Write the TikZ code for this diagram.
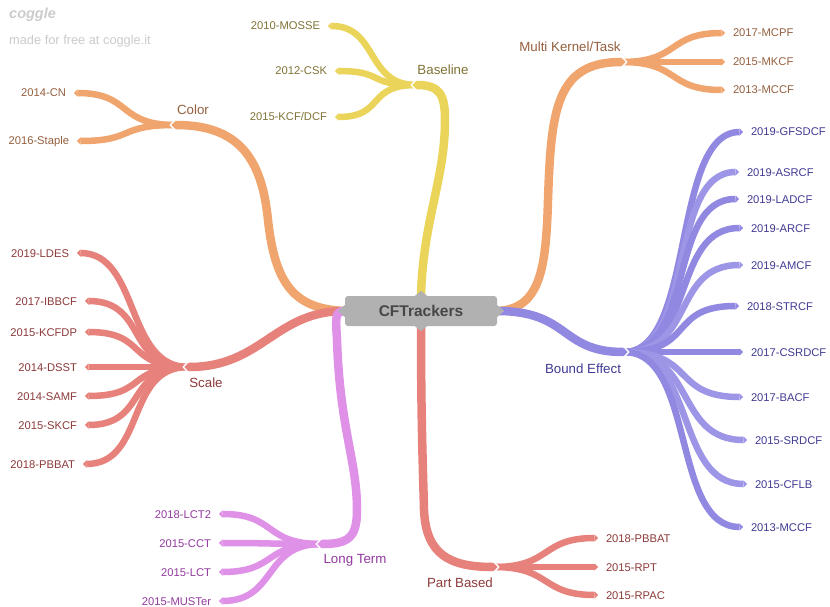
\documentclass[tikz,border=0pt]{standalone}
\usepackage{fontspec}
\setmainfont{Liberation Sans}
\usetikzlibrary{arrows.meta,backgrounds}

% branch colours
\definecolor{cYellow}{HTML}{EAD45A}
\definecolor{cOrange}{HTML}{F0A56E}
\definecolor{cRed}{HTML}{E6817B}
\definecolor{cPink}{HTML}{DF91E8}
\definecolor{cBlue}{HTML}{9088E1}
\definecolor{cBlueLight}{HTML}{9D96E6}
\definecolor{cGray}{HTML}{B1B1B1}
% text colours
\definecolor{tOlive}{HTML}{7F7236}
\definecolor{tBrown}{HTML}{945F3E}
\definecolor{tRed}{HTML}{8C3A3A}
\definecolor{tPurple}{HTML}{923A9E}
\definecolor{tBlue}{HTML}{403A93}
\definecolor{tRoot}{HTML}{474747}
\definecolor{tMark}{HTML}{CBCBCB}

\begin{document}
\begin{tikzpicture}[x=1pt,y=-1pt,
  leafL/.style={anchor=east, inner sep=0pt, outer xsep=8pt, text height=8pt, text depth=0pt,
    font=\fontsize{11.2}{13}\selectfont},
  leafR/.style={leafL, anchor=west},
  catlabel/.style={inner sep=0pt, font=\fontsize{13.3}{15}\selectfont},
  rootnode/.style={fill=cGray, rounded corners=3pt, minimum width=152pt, minimum height=30pt,
    inner sep=0pt, text=tRoot, font=\bfseries\fontsize{15.5}{18}\selectfont},
  trunk/.style={line width=8.5pt, -{Triangle[length=4pt,width=9pt,line width=0pt]}},
  twig/.style={line width=6.5pt, -{Triangle[length=3.5pt,width=7.5pt,line width=0pt]}},
  notchline/.style={white, line width=1.3pt, line join=miter},
]
\useasboundingbox (0,0) rectangle (830,607);

% watermark
\node[anchor=west, inner sep=0pt, text=tMark, font=\bfseries\itshape\fontsize{14.5}{16}\selectfont] (logo) at (9,15) {coggle};
\node[anchor=west, inner sep=0pt, text=tMark, font=\fontsize{12.8}{15}\selectfont] (credit) at (9,41) {made for free at coggle.it};

% central topic
\node[rootnode] (root) at (421,311) {CFTrackers};
\fill[cGray] (root.west) ++(0,-6) -- ++(-7,6) -- ++(7,6) -- cycle;
\fill[cGray] (root.east) ++(0,-6) -- ++(7,6) -- ++(-7,6) -- cycle;
\fill[cGray] (root.north) ++(-6,0) -- ++(6,-5) -- ++(6,5) -- cycle;
\fill[cGray] (root.south) ++(-6,0) -- ++(6,5) -- ++(6,-5) -- cycle;

% category labels
\node[catlabel, text=tOlive]  (baseline) at (443,70)  {Baseline};
\node[catlabel, text=tBrown]  (color)    at (193,110) {Color};
\node[catlabel, text=tRed]    (scale)    at (206,383) {Scale};
\node[catlabel, text=tPurple] (longterm) at (355,560) {Long Term};
\node[catlabel, text=tRed]    (partbased) at (460,583) {Part Based};
\node[catlabel, text=tBlue]   (bound)    at (583,369) {Bound Effect};
\node[catlabel, text=tBrown]  (multi)    at (570,47)  {Multi Kernel/Task};

% hubs (tip of each trunk) and the start of each bundle of twigs
\coordinate (bsHub) at (413,85);  \coordinate (bsRoot) at (416,85);
\coordinate (clHub) at (172,125); \coordinate (clRoot) at (175,125);
\coordinate (scHub) at (185,367); \coordinate (scRoot) at (188,367);
\coordinate (ltHub) at (318,544); \coordinate (ltRoot) at (321,544);
\coordinate (pbHub) at (497,567); \coordinate (pbRoot) at (494,567);
\coordinate (mkHub) at (625,62);  \coordinate (mkRoot) at (622,62);
\coordinate (bdHub) at (627,352); \coordinate (bdRoot) at (624,352);

% leaves: Baseline
\node[leafL, text=tOlive] (mosse) at (328,26)  {2010-MOSSE};
\node[leafL, text=tOlive] (csk)   at (335,71)  {2012-CSK};
\node[leafL, text=tOlive] (kcf)   at (335,117) {2015-KCF/DCF};
% leaves: Color
\node[leafL, text=tBrown] (cn)     at (74,93)  {2014-CN};
\node[leafL, text=tBrown] (staple) at (77,141) {2016-Staple};
% leaves: Scale
\node[leafL, text=tRed] (ldes)   at (77,253) {2019-LDES};
\node[leafL, text=tRed] (ibbcf)  at (85,301) {2017-IBBCF};
\node[leafL, text=tRed] (kcfdp)  at (85,332) {2015-KCFDP};
\node[leafL, text=tRed] (dsst)   at (85,367) {2014-DSST};
\node[leafL, text=tRed] (samf)   at (85,396) {2014-SAMF};
\node[leafL, text=tRed] (skcf)   at (85,425) {2015-SKCF};
\node[leafL, text=tRed] (pbbatL) at (83,464) {2018-PBBAT};
% leaves: Long Term
\node[leafL, text=tPurple] (lct2)   at (219,514) {2018-LCT2};
\node[leafL, text=tPurple] (cct)    at (219,543) {2015-CCT};
\node[leafL, text=tPurple] (lct)    at (219,572) {2015-LCT};
\node[leafL, text=tPurple] (muster) at (219,601) {2015-MUSTer};
% leaves: Part Based
\node[leafR, text=tRed] (pbbatR) at (598,538) {2018-PBBAT};
\node[leafR, text=tRed] (rpt)    at (598,567) {2015-RPT};
\node[leafR, text=tRed] (rpac)   at (598,595) {2015-RPAC};
% leaves: Multi Kernel/Task
\node[leafR, text=tBrown] (mcpf)  at (725,33) {2017-MCPF};
\node[leafR, text=tBrown] (mkcf)  at (725,62) {2015-MKCF};
\node[leafR, text=tBrown] (mccfT) at (725,90) {2013-MCCF};
% leaves: Bound Effect
\node[leafR, text=tBlue] (gfsdcf) at (743,132) {2019-GFSDCF};
\node[leafR, text=tBlue] (asrcf)  at (739,172) {2019-ASRCF};
\node[leafR, text=tBlue] (ladcf)  at (739,199) {2019-LADCF};
\node[leafR, text=tBlue] (arcf)   at (743,228) {2019-ARCF};
\node[leafR, text=tBlue] (amcf)   at (743,265) {2019-AMCF};
\node[leafR, text=tBlue] (strcf)  at (739,306) {2018-STRCF};
\node[leafR, text=tBlue] (csrdcf) at (743,352) {2017-CSRDCF};
\node[leafR, text=tBlue] (bacf)   at (743,397) {2017-BACF};
\node[leafR, text=tBlue] (srdcf)  at (747,440) {2015-SRDCF};
\node[leafR, text=tBlue] (cflb)   at (747,484) {2015-CFLB};
\node[leafR, text=tBlue] (mccfB)  at (743,527) {2013-MCCF};

\begin{scope}[on background layer]
  % Baseline
  \foreach \n in {mosse,csk,kcf}
    \draw[twig, cYellow] (bsRoot) .. controls +(-50,0) and +(50,0) .. (\n.east);
  \draw[trunk, cYellow] (root.north) .. controls (423,220) and (445,180) .. (445,120)
    .. controls (445,95) and (440,85) .. (bsHub);
  \draw[notchline] (bsHub) ++(3.5,-5.5) -- ++(-5.3,5.5) -- ++(5.3,5.5);

  % Color
  \foreach \n in {cn,staple}
    \draw[twig, cOrange] (clRoot) .. controls +(-58,0) and +(58,0) .. (\n.east);
  \draw[trunk, cOrange] (root.west) .. controls (295,309) and (275,285) .. (268,220)
    .. controls (262,160) and (240,125) .. (clHub);
  \draw[notchline] (clHub) ++(3.5,-5.5) -- ++(-5.3,5.5) -- ++(5.3,5.5);

  % Scale
  \foreach \n in {ldes,ibbcf,kcfdp,dsst,samf,skcf,pbbatL}
    \draw[twig, cRed] (scRoot) .. controls +(-63,0) and +(63,0) .. (\n.east);
  \draw[trunk, cRed] (root.west) .. controls (275,311) and (262,367) .. (scHub);
  \draw[notchline] (scHub) ++(3.5,-5.5) -- ++(-5.3,5.5) -- ++(5.3,5.5);

  % Long Term
  \foreach \n in {lct2,cct,lct,muster}
    \draw[twig, cPink] (ltRoot) .. controls +(-58,0) and +(58,0) .. (\n.east);
  \draw[trunk, cPink] (root.west) .. controls (334,311) and (336,320) .. (337,340)
    .. controls (340,430) and (357,460) .. (357,510)
    .. controls (357,538) and (348,544) .. (ltHub);
  \draw[notchline] (ltHub) ++(3.5,-5.5) -- ++(-5.3,5.5) -- ++(5.3,5.5);

  % Part Based
  \foreach \n in {pbbatR,rpt,rpac}
    \draw[twig, cRed] (pbRoot) .. controls +(58,0) and +(-58,0) .. (\n.west);
  \draw[trunk, cRed] (root.south) .. controls (421,420) and (423,470) .. (424,510)
    .. controls (426,555) and (450,567) .. (pbHub);
  \draw[notchline] (pbHub) ++(-3.5,-5.5) -- ++(5.3,5.5) -- ++(-5.3,5.5);

  % Multi Kernel/Task
  \foreach \n in {mcpf,mkcf,mccfT}
    \draw[twig, cOrange] (mkRoot) .. controls +(58,0) and +(-58,0) .. (\n.west);
  \draw[trunk, cOrange] (root.east) .. controls (540,309) and (546,270) .. (548,200)
    .. controls (551,110) and (556,62) .. (mkHub);
  \draw[notchline] (mkHub) ++(-3.5,-5.5) -- ++(5.3,5.5) -- ++(-5.3,5.5);

  % Bound Effect
  \foreach \n/\c in {gfsdcf/cBlue,asrcf/cBlueLight,ladcf/cBlue,arcf/cBlue,amcf/cBlueLight,
                     strcf/cBlue,csrdcf/cBlue,bacf/cBlueLight,srdcf/cBlueLight,cflb/cBlueLight,mccfB/cBlue}
    \draw[twig, \c] (bdRoot) .. controls +(72,0) and +(-72,0) .. (\n.west);
  \draw[trunk, cBlue] (root.east) .. controls (570,311) and (560,352) .. (bdHub);
  \draw[notchline] (bdHub) ++(-3.5,-5.5) -- ++(5.3,5.5) -- ++(-5.3,5.5);
\end{scope}
\end{tikzpicture}
\end{document}
